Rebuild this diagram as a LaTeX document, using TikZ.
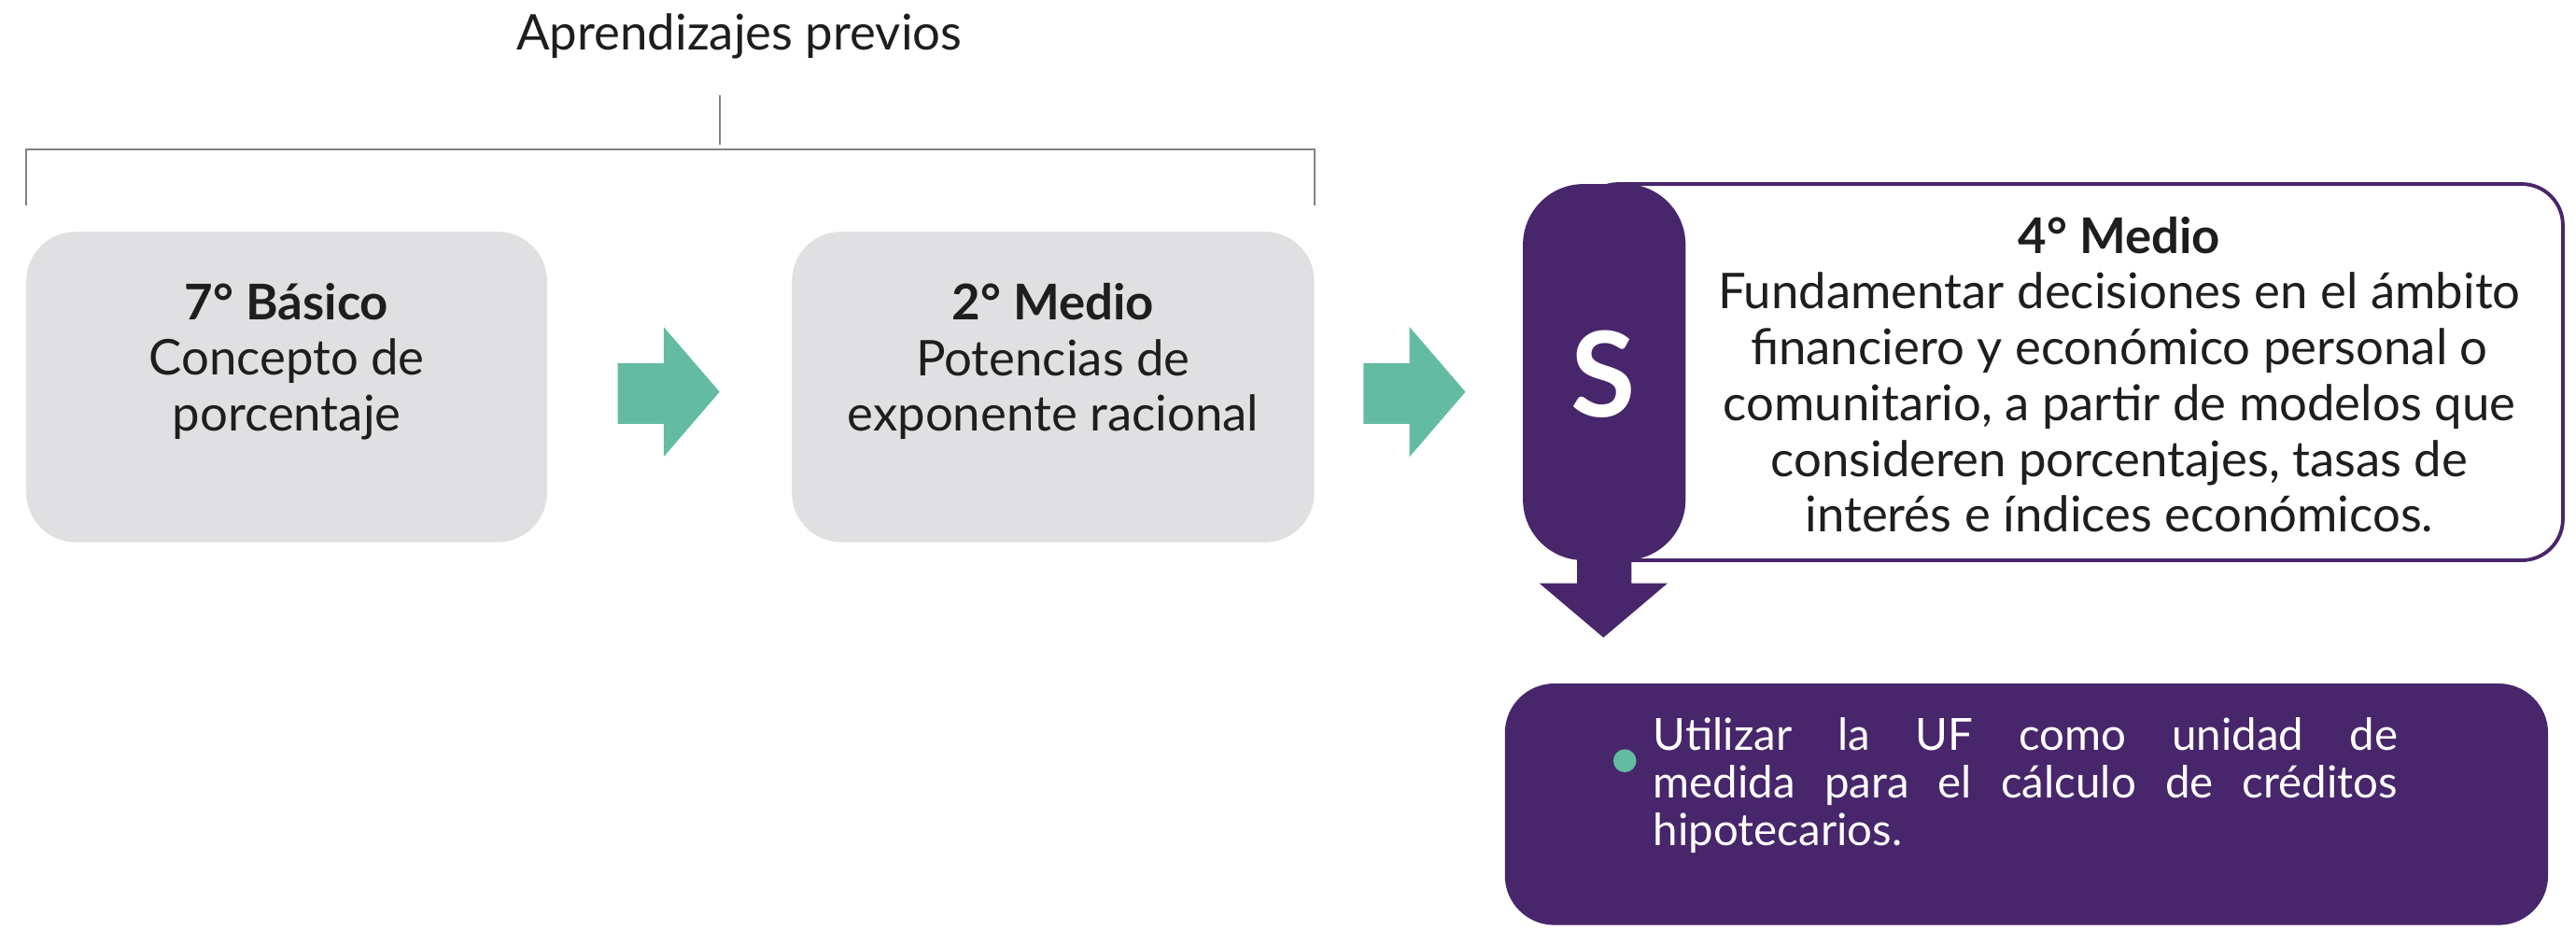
\documentclass[tikz,border=0pt]{standalone}
\usepackage{fontspec}
\setmainfont{Lato}
\usetikzlibrary{fit,calc}
\definecolor{mpurple}{RGB}{72,38,107}
\definecolor{mgreen}{RGB}{99,188,161}
\definecolor{boxgray}{RGB}{224,224,226}
\definecolor{txtcol}{RGB}{30,30,30}
\definecolor{lgray}{RGB}{130,130,130}
\begin{document}
\begin{tikzpicture}[x=0.017596cm,y=-0.017596cm,
  gbox/.style={fill=boxgray, rounded corners=0.53cm, inner sep=0pt},
  pbox/.style={fill=mpurple, rounded corners=0.53cm, inner sep=0pt},
  txt/.style={align=center, font=\fontsize{15}{17}\selectfont, text=txtcol, inner sep=0pt},
  bracket/.style={lgray, line width=0.6pt},
  garrow/.style={fill=mgreen},
  parrow/.style={fill=mpurple}]
\useasboundingbox (0,0) rectangle (1568,575);
% title and bracket
\node[txt] (title) at (450,22) {Aprendizajes previos};
\coordinate (vt) at (438,58);
\coordinate (vb) at (438,88);
\draw[bracket] (vt) -- (vb);
\draw[bracket] (16,125) -- (16,91) -- (800,91) -- (800,125);
% gray boxes
\node[gbox, fit={(16,141) (333,330)}] (b1) {};
\node[txt] (t1) at (174.5,220) {\textbf{7° Básico}\\Concepto de\\porcentaje};
\node[gbox, fit={(482,141) (800,330)}] (b2) {};
\node[txt] (t2) at (641,220) {\textbf{2° Medio}\\Potencias de\\exponente racional};
% green arrows
\fill[garrow] (376,221) -- (404,221) -- (404,199) -- (438,238.5) -- (404,278) -- (404,258) -- (376,258) -- cycle;
\fill[garrow] (830,221) -- (858,221) -- (858,199) -- (892,238.5) -- (858,278) -- (858,258) -- (830,258) -- cycle;
% 4 medio box
\draw[mpurple, fill=white, line width=1.1pt, rounded corners=0.44cm] (960,112) rectangle (1560,341);
\fill[mpurple, rounded corners=0.65cm] (927,112) rectangle (1026,341);
\node[font=\bfseries\fontsize{36}{36}\selectfont, text=white, inner sep=0pt] (S) at (976,228) {S};
\node[txt] (t4) at (1290,228) {\textbf{4° Medio}\\Fundamentar decisiones en el ámbito\\financiero y económico personal o\\comunitario, a partir de modelos que\\consideren porcentajes,  tasas de\\interés e índices económicos.};
% down arrow
\fill[parrow] (960,335) -- (993,335) -- (993,355) -- (1015,355) -- (976,388) -- (937,355) -- (960,355) -- cycle;
% bottom box
\node[pbox, fit={(916,416) (1551,563)}] (b5) {};
\fill[mgreen] (989,463) circle (7);
\node[anchor=west, text=white, font=\fontsize{13.5}{14.5}\selectfont, text width=7.97cm, align=justify, inner sep=0pt] (t5) at (1006,478) {\hyphenpenalty=10000 Utilizar la UF como unidad de\linebreak medida para el cálculo de créditos\linebreak hipotecarios.};
\end{tikzpicture}
\end{document}
